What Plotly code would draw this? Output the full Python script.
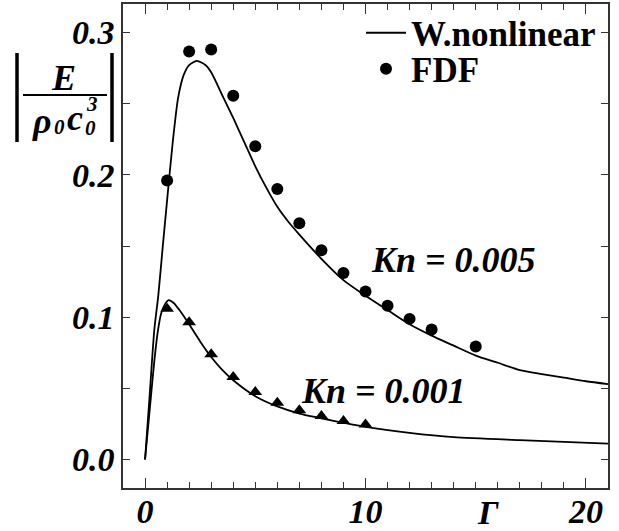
import plotly.graph_objects as go

# ---- data ----
gamma_line_005 = [0, 0.2, 0.42, 0.6, 0.8, 1.0, 1.25, 1.5, 1.75, 2.0, 2.35, 2.75, 3.0, 3.5, 4.0, 4.5, 5.0, 5.5, 6.0,
                  6.5, 7.0, 8.0, 9.0, 10.0, 11.0, 12.0, 13.0, 14.0, 15.0, 16.0, 17.0, 18.0, 19.0, 20.0, 21.0]
energy_line_005 = [0, 0.043, 0.091, 0.115, 0.149, 0.182, 0.222, 0.254, 0.270, 0.277, 0.280, 0.277, 0.272, 0.256,
                   0.240, 0.223, 0.206, 0.191, 0.1775, 0.167, 0.158, 0.141, 0.126, 0.115, 0.105, 0.095, 0.087,
                   0.080, 0.073, 0.068, 0.0628, 0.060, 0.0575, 0.055, 0.053]

gamma_line_001 = [0, 0.2, 0.4, 0.57, 0.73, 0.9, 1.07, 1.3, 1.56, 2.0, 2.5, 3.0, 3.5, 4.0, 5.0, 6.0, 7.0, 8.0,
                  9.0, 10.0, 12.0, 14.0, 17.0, 21.0]
energy_line_001 = [0, 0.033, 0.066, 0.089, 0.1026, 0.109, 0.112, 0.110, 0.105, 0.095, 0.083, 0.072, 0.063,
                   0.0557, 0.0445, 0.0373, 0.0323, 0.0290, 0.0258, 0.0229, 0.0187, 0.0157, 0.0136, 0.0112]

gamma_fdf_005 = [1, 2, 3, 4, 5, 6, 7, 8, 9, 10, 11, 12, 13, 15]
energy_fdf_005 = [0.196, 0.2867, 0.2881, 0.2555, 0.220, 0.190, 0.166, 0.147, 0.131, 0.118, 0.108, 0.0988,
                  0.0913, 0.0794]

gamma_fdf_001 = [1, 2, 3, 4, 5, 6, 7, 8, 9, 10]
energy_fdf_001 = [0.106, 0.0965, 0.074, 0.058, 0.0475, 0.0398, 0.0346, 0.0306, 0.0271, 0.0246]

x_tick_vals = [0, 10, 20]
x_tick_text = ["0", "10", "20"]
y_tick_vals = [0.0, 0.1, 0.2, 0.3]
y_tick_text = ["0.0", "0.1", "0.2", "0.3"]

SERIF = '"Liberation Serif", "Times New Roman", Times, serif'
W, H = 619, 531
L, R, T, B = 123, 11, 4, 43


def px(x):
    return (x - L) / (W - L - R)


def py(y):
    return (H - B - y) / (H - T - B)


def bi(size):
    return dict(family=SERIF, size=size, color="black", weight="bold", style="italic")


fig = go.Figure()
fig.add_trace(go.Scatter(x=gamma_line_005, y=energy_line_005, mode="lines", name="W.nonlinear",
                         legend="legend",
                         line=dict(color="black", width=1.8, shape="spline", smoothing=0.7)))
fig.add_trace(go.Scatter(x=gamma_line_001, y=energy_line_001, mode="lines", showlegend=False,
                         line=dict(color="black", width=1.8, shape="spline", smoothing=0.7)))
fig.add_trace(go.Scatter(x=gamma_fdf_005, y=energy_fdf_005, mode="markers", name="FDF",
                         legend="legend2",
                         marker=dict(color="black", size=12, symbol="circle")))
fig.add_trace(go.Scatter(x=gamma_fdf_001, y=energy_fdf_001, mode="markers", showlegend=False,
                         marker=dict(color="black", size=12, symbol="triangle-up")))

fig.update_xaxes(range=[-1, 21], tickvals=x_tick_vals, ticktext=x_tick_text, tickfont=bi(34),
                 automargin=False, ticklabelstandoff=-8,
                 ticks="inside", ticklen=10, tickwidth=1.2, tickcolor="#333",
                 minor=dict(dtick=1, ticks="inside", ticklen=6, tickwidth=1.2, tickcolor="#333"),
                 showline=True, linecolor="#333", linewidth=1.5, mirror="ticks",
                 showgrid=False, zeroline=False)
fig.update_yaxes(range=[-0.02, 0.32], tickvals=y_tick_vals, ticktext=y_tick_text, tickfont=bi(34),
                 automargin=False,
                 ticks="inside", ticklen=7, tickwidth=1.2, tickcolor="#333",
                 minor=dict(dtick=0.05, ticks="inside", ticklen=7, tickwidth=1.2, tickcolor="#333"),
                 showline=True, linecolor="#333", linewidth=1.5, mirror="ticks",
                 showgrid=False, zeroline=False)


def note(x, y, text, size, xref="paper", yref="paper"):
    return dict(x=x, y=y, xref=xref, yref=yref, text=text, showarrow=False,
                xanchor="center", yanchor="middle", font=bi(size))


annotations = [
    note(px(488), py(512), "Γ", 34),
    note(14.0, 0.140, "Kn = 0.005", 36, "x", "y"),
    note(10.83, 0.048, "Kn = 0.001", 36, "x", "y"),
    # y-axis title: |E / (rho_0 c_0^3)|
    note(px(63), py(78), "E", 36),
    note(px(42), py(121), "ρ", 36),
    note(px(60), py(127), "0", 21),
    note(px(75), py(118), "c", 36),
    note(px(90), py(128), "0", 21),
    note(px(92), py(104), "3", 21),
]

shapes = [
    dict(type="line", xref="paper", yref="paper", x0=px(23), x1=px(107), y0=py(95), y1=py(95),
         line=dict(color="black", width=2)),
    dict(type="line", xref="paper", yref="paper", x0=px(17), x1=px(17), y0=py(53), y1=py(142),
         line=dict(color="black", width=3.5)),
    dict(type="line", xref="paper", yref="paper", x0=px(112), x1=px(112), y0=py(53), y1=py(142),
         line=dict(color="black", width=3.5)),
]

legend_font = dict(family=SERIF, size=35, color="black", weight="bold")
fig.update_layout(
    width=W, height=H, margin=dict(l=L, r=R, t=T, b=B, autoexpand=False),
    paper_bgcolor="white", plot_bgcolor="white",
    showlegend=True,
    legend=dict(x=px(361), y=py(33), xanchor="left", yanchor="middle", bgcolor="rgba(0,0,0,0)",
                font=legend_font, itemwidth=40),
    legend2=dict(x=px(361), y=py(69), xanchor="left", yanchor="middle", bgcolor="rgba(0,0,0,0)",
                 font=legend_font, itemwidth=40),
    annotations=annotations, shapes=shapes,
)

fig.write_html("out.html")
